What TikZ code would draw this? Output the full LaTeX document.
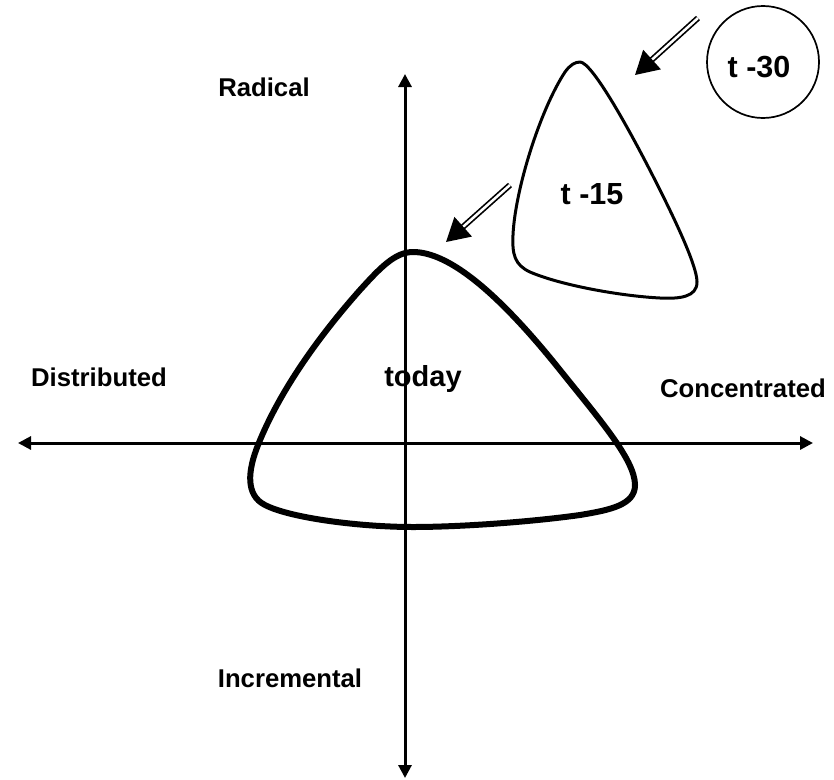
\documentclass[tikz,border=0pt]{standalone}
\usepackage{fontspec}
\setmainfont{Liberation Sans}
\usetikzlibrary{arrows.meta}
\tikzset{
    axis/.style={line width=3pt, {Triangle[length=13pt,width=13pt]}-{Triangle[length=13pt,width=13pt]}},
    lbl/.style={anchor=base, inner sep=0pt, font=\fontsize{25.7}{30}\selectfont\bfseries},
    biglbl/.style={lbl, font=\fontsize{30.5}{36}\selectfont\bfseries},
    drift/.style={double, line width=1.7pt, double distance=2.5pt, -{Triangle[length=23pt,width=26pt]}},
}
\begin{document}
\begin{tikzpicture}[x=1pt, y=-1pt]
    % --- 画布大小 ---
    \useasboundingbox (0,0) rectangle (834,779);

    % --- 坐标轴端点 ---
    \coordinate (west)  at (18,443);
    \coordinate (east)  at (813,443);
    \coordinate (north) at (405,74);
    \coordinate (south) at (405,778);

    % --- 坐标轴 ---
    \draw[axis] (west) -- (east);
    \draw[axis] (north) -- (south);

    % --- 轴标签 ---
    \node[lbl] (radical)      at (264,96)  {Radical};
    \node[lbl] (incremental)  at (290,687) {Incremental};
    \node[lbl] (distributed)  at (99,386)  {Distributed};
    \node[lbl] (concentrated) at (743,397) {Concentrated};

    % --- today (粗线) ---
    \draw[line width=6pt, line join=round]
        (413,252) .. controls (450,252) and (500,295) .. (560,370)
        .. controls (600,420) and (635,460) .. (635,485)
        .. controls (635,505) and (610,510) .. (580,515)
        .. controls (530,522) and (460,527) .. (413,527)
        .. controls (360,527) and (290,518) .. (265,505)
        .. controls (245,495) and (248,470) .. (258,445)
        .. controls (280,390) and (320,335) .. (360,290)
        .. controls (380,268) and (395,252) .. cycle;
    \node[lbl, font=\fontsize{29}{34}\selectfont\bfseries] (today) at (423,386) {today};

    % --- t -15 ---
    \draw[line width=3pt, line join=round]
        (580,62) .. controls (592,62) and (630,130) .. (660,190)
        .. controls (685,240) and (697,270) .. (697,282)
        .. controls (697,297) and (680,299) .. (660,298)
        .. controls (620,296) and (560,285) .. (530,272)
        .. controls (515,265) and (512,255) .. (513,235)
        .. controls (515,190) and (540,110) .. (565,72)
        .. controls (570,65) and (575,62) .. cycle;
    \node[biglbl] (t15) at (592,204) {t -15};

    % --- t -30 ---
    \node[circle, draw, line width=1.7pt, minimum size=112pt, inner sep=0pt] (t30circ) at (763,62) {};
    \node[biglbl] (t30) at (759,77) {t -30};

    % --- 移动方向 (双线箭头) ---
    \coordinate (a1s) at (698,18);
    \coordinate (a1e) at (635,75);
    \coordinate (a2s) at (510,185);
    \coordinate (a2e) at (446,242);
    \draw[drift] (a1s) -- (a1e);
    \draw[drift] (a2s) -- (a2e);
\end{tikzpicture}
\end{document}
